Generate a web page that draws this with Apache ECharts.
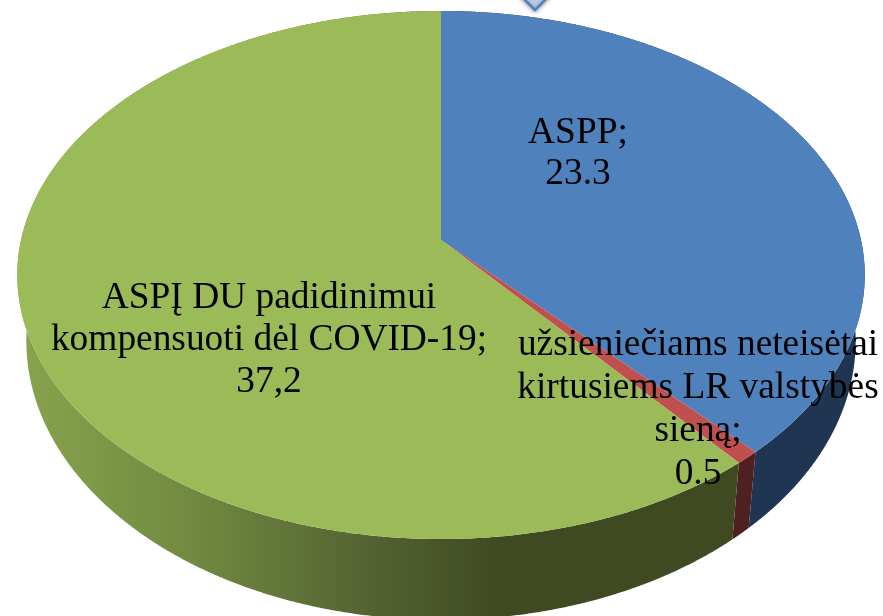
<!DOCTYPE html>
<html>
<head>
<meta charset="utf-8">
<style>
html, body { margin: 0; padding: 0; background: #fff; overflow: hidden; }
#main { width: 883px; height: 616px; }
</style>
<script src="https://cdn.jsdelivr.net/npm/echarts@6/dist/echarts.min.js"></script>
</head>
<body>
<div id="main"></div>
<script>
var categories = ['ASPP', 'užsieniečiams neteisėtai\nkirtusiems LR valstybės\nsieną', 'ASPĮ DU padidinimui\nkompensuoti dėl COVID-19'];
var values = [23.3, 0.5, 37.2];
var valueLabels = ['23.3', '0.5', '37,2'];

var topColors = ['#4f81bd', '#c0504d', '#9bbb59'];
var wallColors = ['#1f3552', '#4f2020', {
	type: 'linear', global: true, x: 25, y: 0, x2: 500, y2: 0,
	colorStops: [
		{offset: 0, color: '#87a34c'},
		{offset: 0.35, color: '#718a41'},
		{offset: 0.7, color: '#566532'},
		{offset: 1, color: '#3f4a22'}
	]
}];
var labelPos = [[578, 154], [698, 410], [269, 340]];
var labelHeight = [41, 43, 42];

// tilted disc: far edge is squeezed, so the centre sits above the middle of the ellipse
var persp = 0.1326;
var topFace = {cx: 441, cy: 240, a: 420, b: 259.4};
var bottomFace = {cx: 441, cy: 304, a: 411, b: 274};

var total = 0;
for (var i = 0; i < values.length; i++) total += values[i];

function project(face, phi) {
	var w = 1 + persp * Math.cos(phi);
	return [face.cx + face.a * Math.sin(phi) / w, face.cy - face.b * Math.cos(phi) / w];
}

function arc(face, from, to) {
	var pts = [];
	var n = Math.max(2, Math.ceil((to - from) / 0.004));
	for (var i = 0; i <= n; i++) {
		pts.push(project(face, from + (to - from) * i / n));
	}
	return pts;
}

function sliceAngles(index, api) {
	var before = 0;
	for (var i = 0; i < index; i++) before += values[i];
	return [before / total * Math.PI * 2, (before + api.value(0)) / total * Math.PI * 2];
}

function renderWall(params, api) {
	var ang = sliceAngles(params.dataIndex, api);
	var pts = arc(topFace, ang[0], ang[1]).concat(arc(bottomFace, ang[0], ang[1]).reverse());
	return {
		type: 'polygon',
		shape: {points: pts},
		style: {fill: wallColors[params.dataIndex]},
		silent: true
	};
}

function renderTop(params, api) {
	var i = params.dataIndex;
	var ang = sliceAngles(i, api);
	var pts = [[topFace.cx, topFace.cy]].concat(arc(topFace, ang[0], ang[1]));
	return {
		type: 'group',
		children: [{
			type: 'polygon',
			shape: {points: pts},
			style: {fill: topColors[i]},
			silent: true
		}, {
			type: 'text',
			z2: 10,
			style: {
				x: labelPos[i][0],
				y: labelPos[i][1],
				text: categories[i] + ';\n' + valueLabels[i],
				align: 'center',
				verticalAlign: 'middle',
				font: '37.4px "Liberation Serif"',
				lineHeight: labelHeight[i],
				fill: '#000'
			},
			silent: true
		}]
	};
}

var myChart = echarts.init(document.getElementById('main'), null, {renderer: 'canvas'});
var option = {
	backgroundColor: '#fff',
	animation: false,
	graphic: [{
		type: 'polygon',
		z: 20,
		shape: {points: [[535, 10], [508, -17], [562, -17]]},
		style: {
			fill: '#b9cde5',
			stroke: '#4f81bd',
			lineWidth: 2.5,
			shadowBlur: 4,
			shadowColor: 'rgba(0,0,0,0.35)',
			shadowOffsetY: 1
		}
	}],
	series: [{
		type: 'custom',
		coordinateSystem: 'none',
		renderItem: renderWall,
		data: values,
		z: 1
	}, {
		type: 'custom',
		coordinateSystem: 'none',
		renderItem: renderTop,
		data: values,
		z: 2
	}]
};
myChart.setOption(option);
</script>
</body>
</html>
